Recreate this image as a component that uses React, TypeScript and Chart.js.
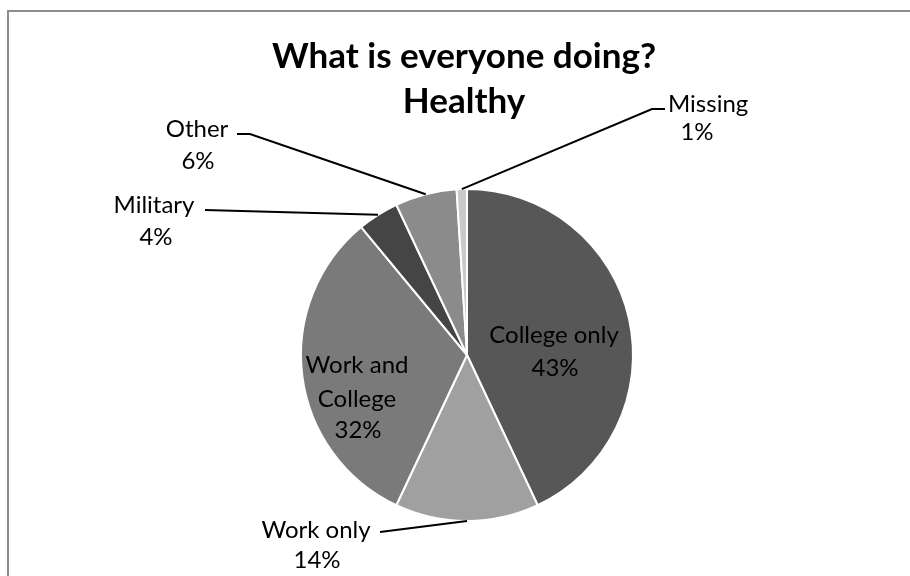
import React, { useEffect, useRef } from "react";
import { Chart, registerables } from "chart.js";

Chart.register(...registerables);

const categories = ["College only", "Work only", "Work and College", "Military", "Other", "Missing"];
const percents = [43, 14, 32, 4, 6, 1];
const labelLines = [["College only"], ["Work only"], ["Work and", "College"], ["Military"], ["Other"], ["Missing"]];
const titleLines = ["What is everyone doing?", "Healthy"];

const sliceColors = ["#575757", "#a0a0a0", "#7a7a7a", "#454545", "#8b8b8b", "#c9c9c9"];

type LabelLayout = {
  inside: boolean;
  cx: number[];
  align?: CanvasTextAlign[];
  baselines: number[];
  leader?: number[][];
};

const labelLayout: LabelLayout[] = [
  { inside: true, cx: [554, 555], baselines: [343, 376] },
  { inside: false, cx: [316, 317], baselines: [538, 568], leader: [[380, 532]] },
  { inside: true, cx: [357, 357, 358], baselines: [373, 407, 438] },
  { inside: false, cx: [154, 156], baselines: [213, 245], leader: [[205, 210]] },
  { inside: false, cx: [197, 198], baselines: [137, 169], leader: [[237, 134], [250, 134]] },
  { inside: false, cx: [668, 697], align: ["left", "center"], baselines: [112, 140], leader: [[665, 109], [652, 109]] },
];

const FONT = "Lato, 'Noto Sans', sans-serif";

const labelPlugin = {
  id: "customLabels",
  beforeDraw(chart: any) {
    const ctx = chart.ctx;
    ctx.save();
    ctx.strokeStyle = "#8d8d8d";
    ctx.lineWidth = 2;
    ctx.beginPath();
    ctx.moveTo(8, 576);
    ctx.lineTo(8, 11);
    ctx.lineTo(910, 11);
    ctx.stroke();
    ctx.restore();
  },
  afterDraw(chart: any) {
    const ctx = chart.ctx;
    const meta = chart.getDatasetMeta(0);
    ctx.save();
    ctx.fillStyle = "#000";
    ctx.textAlign = "center";
    ctx.textBaseline = "alphabetic";
    ctx.font = `bold 35px ${FONT}`;
    ctx.fillText(titleLines[0], 464, 68);
    ctx.fillText(titleLines[1], 464, 113);

    ctx.font = `24px ${FONT}`;
    meta.data.forEach((arc: any, i: number) => {
      const lay = labelLayout[i];
      const lines = [...labelLines[i], `${percents[i]}%`];
      lines.forEach((t, k) => {
        ctx.textAlign = lay.align ? lay.align[k] : "center";
        ctx.fillText(t, lay.cx[k], lay.baselines[k]);
      });
      if (!lay.inside && lay.leader) {
        const mid = (arc.startAngle + arc.endAngle) / 2;
        const ex = arc.x + Math.cos(mid) * arc.outerRadius;
        const ey = arc.y + Math.sin(mid) * arc.outerRadius;
        ctx.strokeStyle = "#000";
        ctx.lineWidth = 2;
        ctx.beginPath();
        ctx.moveTo(lay.leader[0][0], lay.leader[0][1]);
        for (let k = 1; k < lay.leader.length; k++) ctx.lineTo(lay.leader[k][0], lay.leader[k][1]);
        ctx.lineTo(ex, ey);
        ctx.stroke();
      }
    });
    ctx.restore();
  },
};

export default function App() {
  const ref = useRef<HTMLCanvasElement | null>(null);
  useEffect(() => {
    if (!ref.current) return;
    const chart = new Chart(ref.current, {
      type: "pie",
      data: {
        labels: categories,
        datasets: [
          {
            data: percents,
            backgroundColor: sliceColors,
            borderColor: "#ffffff",
            borderWidth: 2,
            hoverOffset: 0,
          },
        ],
      },
      options: {
        responsive: false,
        animation: false,
        layout: { padding: { left: 300, right: 276, top: 188, bottom: 54 } },
        plugins: {
          legend: { display: false },
          tooltip: { enabled: false },
          title: { display: false },
        },
      },
      plugins: [labelPlugin],
    });
    return () => chart.destroy();
  }, []);
  return (
    <div style={{ position: "absolute", left: 0, top: 0, width: 910, height: 576, background: "#fff" }}>
      <canvas ref={ref} width={910} height={576} />
    </div>
  );
}
